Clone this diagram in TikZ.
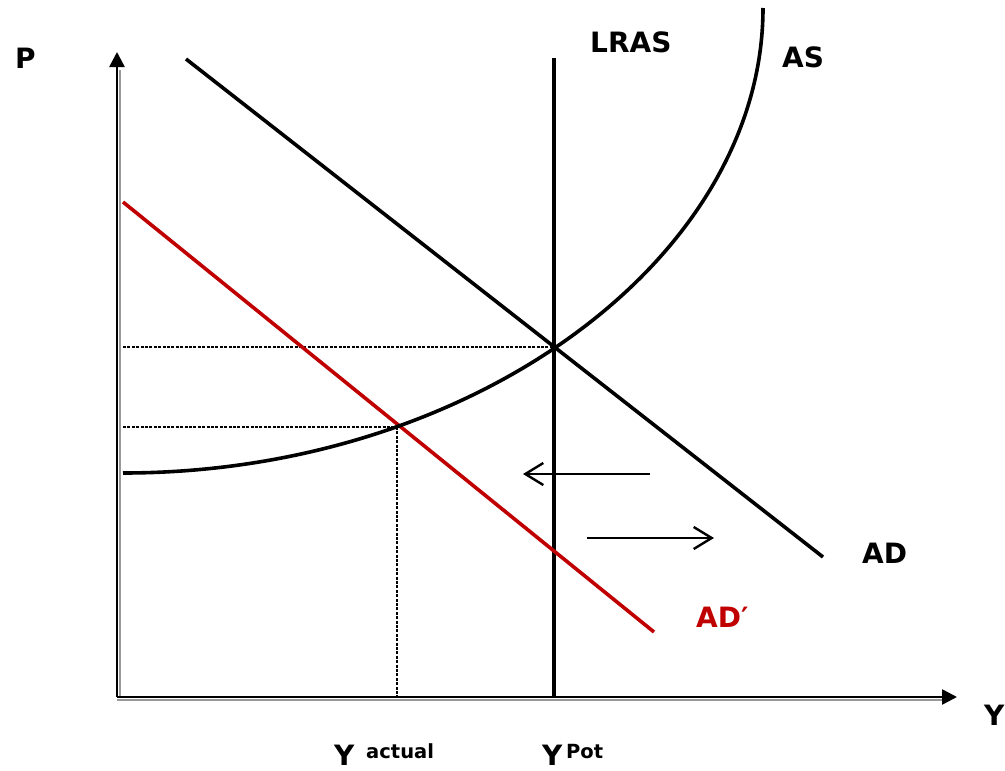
\documentclass[tikz,border=0pt]{standalone}
\usepackage{fontspec}
\setmainfont{DejaVu Sans}
\usetikzlibrary{arrows.meta}
\definecolor{adred}{RGB}{192,0,0}
\tikzset{
  curve/.style={line width=3.6pt, black},
  axis/.style={line width=2.6pt, black, -{Triangle[length=15pt,width=15pt]}},
  axshadow/.style={line width=1.4pt, black!40},
  guide/.style={line width=2.8pt, dash pattern=on 3pt off 1.4pt},
  shift arrow/.style={line width=2.4pt, -{Straight Barb[length=18pt,width=22pt,line width=2.4pt]}},
  lab/.style={font=\fontsize{28}{30}\selectfont\bfseries, anchor=base west, inner sep=0pt},
  sub/.style={font=\fontsize{19.5}{22}\selectfont\bfseries, anchor=base west, inner sep=0pt}
}
\begin{document}
\begin{tikzpicture}[x=1pt,y=-1pt]
\path[use as bounding box] (0,0) rectangle (1005,771);
\clip (0,0) rectangle (1005,771);
% coordinates
\coordinate (O) at (117,697);
\coordinate (Ptop) at (117,52);
\coordinate (Yend) at (957,697);
\coordinate (lrasT) at (554,58);
\coordinate (lrasB) at (554,697);
\coordinate (adA) at (186,59);
\coordinate (adB) at (823,557);
\coordinate (adpA) at (123,202);
\coordinate (adpB) at (654,632);
\coordinate (E1) at (554,347);
\coordinate (E2) at (397,427);
\coordinate (L1) at (123,347);
\coordinate (L2) at (123,427);
\coordinate (B2) at (397,697);
\coordinate (asA) at (123,473);
\coordinate (asB) at (763,8);
\coordinate (la1) at (650,474);
\coordinate (la2) at (523,474);
\coordinate (ra1) at (587,538);
\coordinate (ra2) at (714,538);
% axes shadow
\draw[axshadow] (119.8,697) -- (119.8,70);
\draw[axshadow] (117,699.8) -- (945,699.8);
% axes
\draw[axis] (O) -- (Ptop);
\draw[axis] (O) -- (Yend);
% guides
\draw[guide] (L1) -- (E1);
\draw[guide] (L2) -- (E2);
\draw[guide] (E2) -- (B2);
% LRAS
\draw[curve] (lrasT) -- (lrasB);
% AD
\draw[curve] (adA) -- (adB);
% AD'
\draw[curve, adred] (adpA) -- (adpB);
% AS
\draw[curve] (asA) .. controls (473,473) and (763,258) .. (asB);
% shift arrows
\draw[shift arrow] (la1) -- (la2);
\draw[shift arrow] (ra1) -- (ra2);
% labels
\node[lab] (tP) at (15,68) {P};
\node[lab] (tLRAS) at (590,52) {LRAS};
\node[lab] (tAS) at (782,67) {AS};
\node[lab] (tAD) at (862,563) {AD};
\node[lab, text=adred] (tADp) at (696,627) {AD′};
\node[lab] (tY) at (984,725) {Y};
\node[lab] (tYa) at (334,765) {Y};
\node[sub] (tact) at (366,758) {actual};
\node[lab] (tYp) at (542,765) {Y};
\node[sub] (tpot) at (566,758) {Pot};
\end{tikzpicture}
\end{document}
